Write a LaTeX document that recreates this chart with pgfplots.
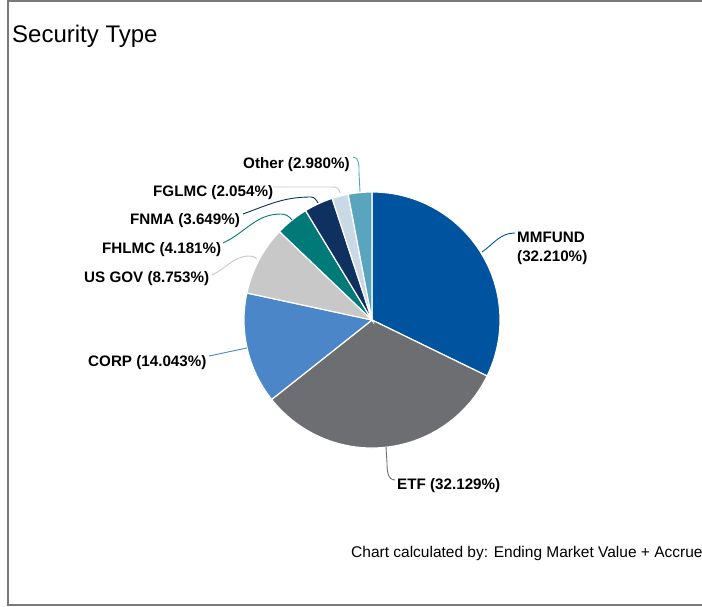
\documentclass[border=0pt]{standalone}
\usepackage{pgfplots}
\pgfplotsset{compat=1.18}
\usepackage{fontspec}
\setmainfont{Liberation Sans}
\definecolor{frame}{HTML}{7A7A7A}
\definecolor{cMM}{HTML}{00539F}
\definecolor{cETF}{HTML}{6D6E71}
\definecolor{cCORP}{HTML}{4A86C8}
\definecolor{cGOV}{HTML}{C8C8C8}
\definecolor{cFHLMC}{HTML}{007A78}
\definecolor{cFNMA}{HTML}{0E3160}
\definecolor{cFGLMC}{HTML}{C9DAE6}
\definecolor{cOther}{HTML}{5AA5BE}
\begin{document}
\begin{tikzpicture}
\begin{axis}[x=1pt,y=1pt,xmin=0,xmax=702,ymin=0,ymax=607,hide axis,clip=false]
% frame (right side runs off the page)
\draw[color=frame,line width=2.4pt] (720,2) -- (8,2) -- (8,605.7) -- (720,605.7);
% pie slices, clockwise from 12 o'clock
\xdef\startang{90}
\foreach \v/\c in {32.210/cMM,32.129/cETF,14.043/cCORP,8.753/cGOV,4.181/cFHLMC,3.649/cFNMA,2.054/cFGLMC,2.980/cOther}{
  \pgfmathsetmacro\endang{\startang-3.6*\v}
  \edef\temp{\noexpand\fill[\c,draw=white,line width=1.2pt] (372,287) -- ++(\startang:128pt) arc[start angle=\startang,end angle=\endang,radius=128pt] -- cycle;}
  \temp
  \xdef\startang{\endang}
}
% leader lines
\draw[cOther,line width=0.9pt] (353,450) to[out=0,in=90] (359,435) -- (360,415);
\draw[cFGLMC!80!gray,line width=0.9pt] (273,420) -- (334,420) to[out=0,in=100] (340,414);
\draw[cFNMA,line width=0.9pt] (243,393) to[out=20,in=180] (311,410) to[out=0,in=120] (318,404);
\draw[cFHLMC,line width=0.9pt] (223,364) to[out=25,in=180] (281,393) to[out=0,in=130] (292,387);
\draw[cGOV,line width=0.9pt] (212,332) to[out=25,in=180] (250,351) to[out=0,in=140] (257,348);
\draw[cCORP,line width=0.9pt] (209,251) -- (247,259);
\draw[cETF,line width=0.9pt] (395,127) to[out=180,in=-90] (387,144) -- (386,160);
\draw[cMM,line width=0.9pt] (515,374) to[out=180,in=35] (482,355);
% labels
\tikzset{lab/.style={anchor=base west,inner sep=0pt,font=\bfseries\fontsize{15.2}{18}\selectfont}}
\node[lab] at (243,438) {Other (2.980\%)};
\node[lab] at (153,410) {FGLMC (2.054\%)};
\node[lab] at (130,382) {FNMA (3.649\%)};
\node[lab] at (102,353) {FHLMC (4.181\%)};
\node[lab] at (84,324) {US GOV (8.753\%)};
\node[lab] at (88,240) {CORP (14.043\%)};
\node[lab] at (397,117) {ETF (32.129\%)};
\node[lab] at (517,364) {MMFUND};
\node[lab] at (517,345) {(32.210\%)};
\node[anchor=base west,inner sep=0pt,font=\fontsize{24}{28}\selectfont] at (12,564) {Security Type};
\node[anchor=base west,inner sep=0pt,font=\fontsize{15.5}{18}\selectfont] at (351,49) {Chart calculated by: Ending Market Value + Accrue};
\end{axis}
\pgfresetboundingbox
\path[use as bounding box] (0,0) rectangle (702pt,607pt);
\end{tikzpicture}
\end{document}
